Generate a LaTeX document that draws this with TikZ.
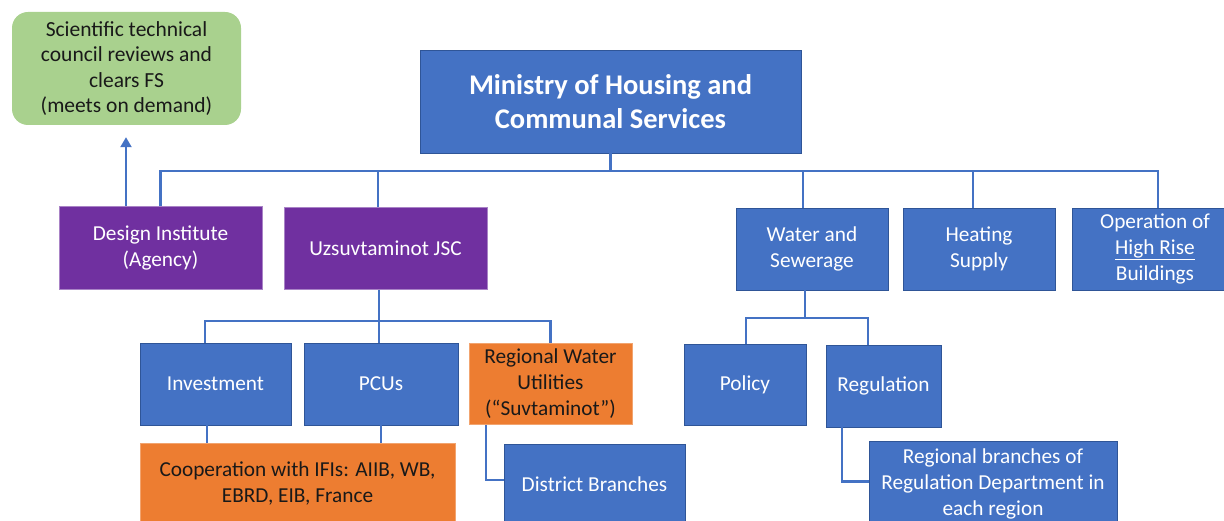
\documentclass[tikz,border=0pt]{standalone}
\usepackage{fontspec}
\setmainfont{Carlito}
\usetikzlibrary{arrows.meta}
\definecolor{bluefill}{HTML}{4472C4}
\definecolor{blueedge}{HTML}{2F5597}
\definecolor{purplefill}{HTML}{7030A0}
\definecolor{orangefill}{HTML}{ED7D31}
\definecolor{greenfill}{HTML}{A9D18E}
\definecolor{linkcol}{HTML}{4472C4}
\tikzset{
  unit/.style={inner sep=0pt, align=center, text=white,
    font=\fontsize{21.3}{26}\selectfont},
  bluebox/.style={unit, fill=bluefill, draw=blueedge, line width=0.8pt},
  purplebox/.style={unit, fill=purplefill, draw=purplefill!60, line width=0.8pt},
  orangebox/.style={unit, fill=orangefill, draw=orangefill!70, line width=0.8pt, text=black!90},
  greenbox/.style={unit, fill=greenfill, rounded corners=16pt, text=black!90,
    font=\fontsize{21.5}{25.5}\selectfont},
  link/.style={draw=linkcol, line width=2.2pt},
}
\begin{document}
\begin{tikzpicture}[x=1pt,y=-1pt]
\useasboundingbox (0,0) rectangle (1224,521);
\clip (0,0) rectangle (1224,521);

% top level
\node[greenbox, minimum width=229pt, minimum height=113pt] (council) at (126.5,68.5)
  {Scientific technical\\council reviews and\\clears FS\\(meets on demand)};
\node[bluebox, minimum width=381pt, minimum height=103pt,
  font=\fontsize{28.5}{34}\selectfont\bfseries] (min) at (610.5,101.5)
  {Ministry of Housing and\\Communal Services};

% second level
\node[purplebox, minimum width=203pt, minimum height=83pt] (di) at (160.5,247.5)
  {Design Institute\\(Agency)};
\node[purplebox, minimum width=203pt, minimum height=82pt] (uz) at (385.5,248.5)
  {Uzsuvtaminot JSC};
\node[bluebox, minimum width=152pt, minimum height=82pt] (ws) at (812,249)
  {Water and\\Sewerage};
\node[bluebox, minimum width=152pt, minimum height=82pt] (hs) at (979,249)
  {Heating\\Supply};
\node[bluebox, minimum width=166pt, minimum height=82pt] (op) at (1155,249)
  {Operation of\\\underline{High Rise}\\Buildings};

% third level
\node[bluebox, minimum width=151pt, minimum height=82pt] (inv) at (215.5,384)
  {Investment};
\node[bluebox, minimum width=154pt, minimum height=82pt] (pcu) at (381,384)
  {PCUs};
\node[orangebox, minimum width=163pt, minimum height=81pt] (rwu) at (550.5,384)
  {Regional Water\\Utilities\\(“Suvtaminot”)};
\node[bluebox, minimum width=122pt, minimum height=81pt] (pol) at (745,384.5)
  {Policy};
\node[bluebox, minimum width=115pt, minimum height=82pt] (reg) at (883.5,386)
  {Regulation};

% fourth level
\node[orangebox, minimum width=315pt, minimum height=80pt] (coop) at (297.5,483)
  {Cooperation with IFIs: AIIB, WB,\\EBRD, EIB, France};
\node[bluebox, minimum width=181pt, minimum height=80pt] (db) at (594.5,484)
  {District Branches};
\node[bluebox, minimum width=248pt, minimum height=84pt] (rb) at (993,483.5)
  {Regional branches of\\Regulation Department in\\each region};

% ministry bus
\coordinate (bus) at (0,171);
\draw[link] (min.south) -- (min.south |- bus);
\draw[link] (di.north) -- (di.north |- bus) -- ([xshift=3pt]op.north |- bus) -- ([xshift=3pt]op.north);
\draw[link] ([xshift=-7.5pt]uz.north) -- ([xshift=-7.5pt]uz.north |- bus);
\draw[link] ([xshift=-9pt]ws.north) -- ([xshift=-9pt]ws.north |- bus);
\draw[link] ([xshift=-6pt]hs.north) -- ([xshift=-6pt]hs.north |- bus);

% design institute reports to the council
\draw[link, -{Triangle[length=10pt,width=11pt]}, shorten >=12pt]
  ([xshift=-34.5pt]di.north) -- ([xshift=-0.5pt]council.south);

% Uzsuvtaminot branch
\coordinate (ubus) at (0,321);
\draw[link] ([xshift=-6.5pt]uz.south) -- ([xshift=-6.5pt]uz.south |- ubus);
\draw[link] ([xshift=-10.5pt]inv.north) -- ([xshift=-10.5pt]inv.north |- ubus)
  -- (rwu.north |- ubus) -- (rwu.north);
\draw[link] ([xshift=-2pt]pcu.north) -- ([xshift=-2pt]pcu.north |- ubus);
\draw[link] ([xshift=-8.5pt]inv.south) -- ([xshift=-8.5pt]inv.south |- coop.north);
\draw[link] ([xshift=0pt]pcu.south) -- ([xshift=0pt]pcu.south |- coop.north);
\draw[link] ([xshift=-64.5pt]rwu.south) |- ([yshift=4pt]db.west);

% Water and Sewerage branch
\coordinate (wbus) at (0,318);
\draw[link] ([xshift=-7pt]ws.south) -- ([xshift=-7pt]ws.south |- wbus);
\draw[link] ([xshift=1pt]pol.north) -- ([xshift=1pt]pol.north |- wbus)
  -- ([xshift=-15.5pt]reg.north |- wbus) -- ([xshift=-15.5pt]reg.north);
\draw[link] ([xshift=-41.5pt]reg.south) |- ([yshift=2pt]rb.west);
\end{tikzpicture}
\end{document}
